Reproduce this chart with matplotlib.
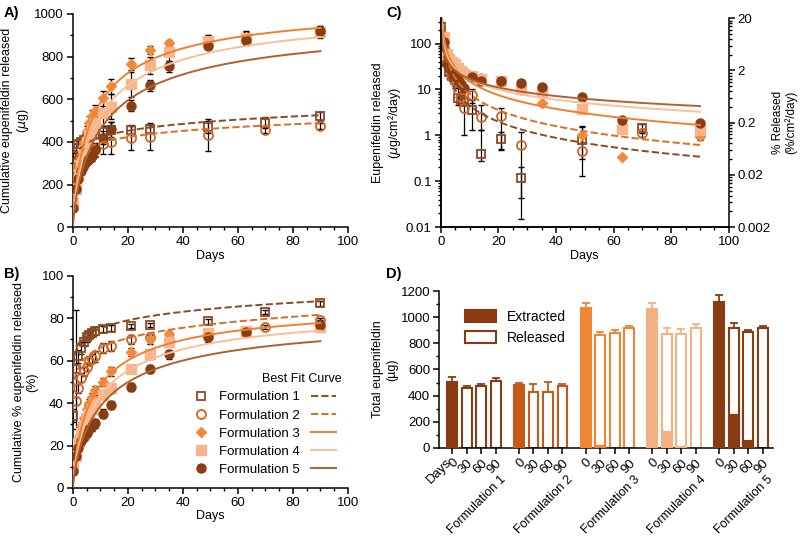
import numpy as np
import matplotlib
matplotlib.use("Agg")
import matplotlib.pyplot as plt
import matplotlib.transforms as mtransforms
from matplotlib.ticker import MultipleLocator, LogLocator, FixedLocator, FuncFormatter, NullFormatter
from matplotlib.lines import Line2D
from matplotlib.patches import Patch

plt.rcParams["font.family"] = ["Liberation Sans", "DejaVu Sans"]
plt.rcParams["font.size"] = 9
plt.rcParams["xtick.labelsize"] = 9.5
plt.rcParams["ytick.labelsize"] = 9.5
plt.rcParams["axes.linewidth"] = 1.1

# ---- data ----
names = ["Formulation 1", "Formulation 2", "Formulation 3", "Formulation 4", "Formulation 5"]
days12 = [0.08, 1, 2, 3, 4, 5, 6, 7, 8, 11, 14, 21, 28, 49, 70, 90]
days345 = [0.08, 1, 2, 3, 4, 5, 6, 7, 8, 11, 14, 21, 28, 35, 49, 63, 90]

# A) cumulative release (ug)
a1 = [340, 370, 390, 400, 410, 420, 425, 430, 435, 445, 455, 455, 460, 470, 490, 520]
a2 = [200, 240, 280, 300, 320, 330, 340, 350, 360, 390, 400, 420, 425, 430, 455, 475]
a3 = [130, 200, 280, 350, 400, 450, 490, 520, 545, 605, 660, 765, 830, 865, 875, 890, 915]
a4 = [110, 180, 250, 310, 360, 400, 430, 460, 490, 535, 565, 670, 760, 820, 875, 885, 915]
a5 = [90, 180, 225, 265, 290, 310, 320, 335, 365, 420, 460, 570, 665, 755, 850, 880, 920]
ea1 = [20, 20, 15, 15, 15, 15, 15, 15, 15, 30, 40, 20, 20, 30, 25, 20]
ea2 = [20, 20, 20, 20, 20, 20, 20, 25, 30, 45, 55, 60, 65, 75, 15, 15]
ea3 = [15, 20, 20, 25, 25, 25, 30, 30, 30, 35, 35, 30, 20, 15, 25, 30, 25]
ea4 = [15, 20, 20, 25, 25, 30, 30, 40, 40, 60, 60, 60, 40, 40, 25, 30, 30]
ea5 = [15, 15, 15, 20, 20, 20, 20, 25, 30, 30, 35, 25, 25, 25, 15, 25, 25]

# B) cumulative % released
b1 = [34, 56, 62, 66, 69, 71, 72, 73, 74, 75, 75.5, 76.5, 77, 78.5, 83, 87]
b2 = [19, 41, 47, 52, 55, 57, 60, 61, 62, 66, 67, 70, 71, 73, 76, 79]
b3 = [11, 17, 23, 29, 33, 37, 40, 43, 46, 50, 55, 64, 70, 72.5, 73, 74, 77]
b4 = [10, 15, 21, 26, 29, 33, 35, 37, 40, 44, 47, 56, 63, 69, 73, 74, 76]
b5 = [8, 15, 19, 22, 24, 26, 28, 29, 30.5, 35, 39, 47.5, 56, 63, 71, 73.5, 77]
eb1 = [3, 28, 3, 3, 2, 2, 2, 2, 2, 1.5, 1.5, 1, 1, 1, 1, 1]
eb2 = [2, 2, 2, 2, 2, 2, 2, 2, 2.5, 2.5, 2.5, 2, 2, 2, 1, 1]
eb3 = [2, 2, 2, 2, 2, 2, 2, 2, 2, 2, 2, 2, 2, 1.5, 1.5, 1.5, 1.5]
eb4 = [2, 2, 2, 2, 2, 2, 2, 2, 2, 2, 2, 2, 2, 2, 2, 2, 2]
eb5 = [2, 2, 2, 2, 2, 2, 2, 2, 2, 2, 2, 2, 2, 2, 2, 2, 2]

# C) release rate (ug/cm2/day)
c1 = [230, 100, 40, 24, 20, 16, 6.4, 5.9, 5.4, 3.5, 0.4, 0.85, 0.12, 0.8, 1.45, 1.2]
c2 = [110, 80, 40, 30, 20, 15, 9.7, 7, 4, 7.5, 2.5, 2.7, 0.62, 0.46, 1.15, 1.0]
c3 = [110, 130, 60, 45, 40, 35, 30, 28, 25, 20, 18, 15, 9.5, 5.0, 1.0, 0.33, 0.95]
c4 = [130, 140, 60, 45, 40, 35, 30, 25, 22, 20, 17, 15, 10, 9, 3.7, 1.35, 1.3]
c5 = [90, 110, 35, 30, 25, 20, 17, 13, 11, 19, 15, 15, 14, 11.5, 7, 2.2, 1.85]
c1_lo = [150, 70, 30, 18, 15, 12, 4.5, 4.5, 4.5, 1.3, 0.27, 0.48, 0.015, 0.3, 1.1, 0.9]
c1_hi = [300, 130, 50, 30, 25, 20, 8, 7.5, 6.5, 6, 1.3, 1.2, 0.2, 1.5, 1.8, 1.5]
c2_lo = [80, 60, 30, 22, 15, 11, 7, 5, 1.0, 5, 1.3, 0.5, 0.043, 0.13, 0.9, 0.8]
c2_hi = [150, 100, 50, 38, 26, 19, 12, 9, 10, 10, 4.6, 4.0, 1.2, 1.6, 1.4, 1.2]

# best-fit parameters
fitA_pow = [(335, 0.10), (317, 0.096)]                 # F1, F2: a*t^b
fitA_hill = [(1070, 8, 0.8), (1045, 10, 0.8), (990, 12, 0.8)]  # F3-F5
fitB_pow = [(63.7, 0.072), (53, 0.096)]
fitB_hill = [(89, 8, 0.8), (87, 10, 0.8), (83, 12, 0.8)]
fitC_pow = [(65, -1.166), (116, -1.164), (148, -0.995), (91.5, -0.74), (70.6, -0.62)]

# D) total eupenifeldin (ug)
day_labels = ["0", "30", "60", "90"]
extracted = [[505, 0, 0, 0], [480, 0, 0, 0], [1070, 30, 0, 0], [1060, 120, 5, 0], [1120, 265, 55, 0]]
extracted_err = [[35, 0, 0, 0], [15, 0, 0, 0], [35, 35, 0, 0], [45, 0, 0, 0], [50, 25, 0, 0]]
released = [[0, 460, 470, 515], [0, 425, 430, 470], [0, 860, 880, 915], [0, 870, 875, 915], [0, 920, 890, 920]]
released_err = [[0, 15, 15, 20], [0, 65, 75, 15], [0, 25, 20, 20], [0, 45, 35, 35], [0, 35, 10, 15]]

# ---- style ----
mcols = ["#8c4a24", "#d0671f", "#f28a3a", "#f6b58c", "#8a3d12"]
lcols = ["#8c4a24", "#d86e2a", "#f08030", "#f8bf98", "#b0612e"]
bcols = ["#8a3b12", "#c5581b", "#ef8535", "#f5b184", "#8a3b12"]
mstyles = [
    dict(marker="s", mfc="none", mec=mcols[0], mew=1.3, ms=6),
    dict(marker="o", mfc="none", mec=mcols[1], mew=1.3, ms=6.5),
    dict(marker="D", mfc=mcols[2], mec=mcols[2], ms=5),
    dict(marker="s", mfc=mcols[3], mec=mcols[3], ms=6.5),
    dict(marker="o", mfc=mcols[4], mec=mcols[4], ms=6.5),
]
lstyles = ["--", "--", "-", "-", "-"]


def style_axis(ax):
    for s in ["top", "right"]:
        ax.spines[s].set_visible(False)
    ax.tick_params(which="major", direction="out", length=4, width=1.1, colors="black", pad=2.5)
    ax.tick_params(which="minor", direction="out", length=2.5, width=1.0)


fig = plt.figure(figsize=(8, 5.37), dpi=100)
axA = fig.add_axes([0.091, 0.577, 0.344, 0.397])
axB = fig.add_axes([0.091, 0.0913, 0.344, 0.395])
axC = fig.add_axes([0.551, 0.577, 0.36, 0.389])
axD = fig.add_axes([0.549, 0.166, 0.417, 0.292])

t = np.linspace(0.02, 90, 500)
tc = np.linspace(0.2, 90, 500)
all_days = [days12, days12, days345, days345, days345]

# A
A = [a1, a2, a3, a4, a5]
EA = [ea1, ea2, ea3, ea4, ea5]
for i in range(5):
    axA.errorbar(all_days[i], A[i], yerr=EA[i], fmt="none", ecolor="black", elinewidth=0.9, capsize=2, zorder=2)
    axA.plot(all_days[i], A[i], ls="none", zorder=3, **mstyles[i])
for i, (a, b) in enumerate(fitA_pow):
    axA.plot(t, a * t ** b, ls="--", color=lcols[i], lw=1.4, zorder=4)
for j, (top, k, h) in enumerate(fitA_hill):
    axA.plot(t, top * t ** h / (k ** h + t ** h), ls="-", color=lcols[j + 2], lw=1.4, zorder=4)
axA.set_xlim(0, 100)
axA.set_ylim(0, 1000)
axA.xaxis.set_major_locator(MultipleLocator(20))
axA.xaxis.set_minor_locator(MultipleLocator(5))
axA.yaxis.set_major_locator(MultipleLocator(200))
axA.yaxis.set_minor_locator(MultipleLocator(100))
axA.set_xlabel("Days", labelpad=1)
axA.set_ylabel("Cumulative eupenifeldin released\n($\\mu$g)", labelpad=2)
style_axis(axA)

# B
B = [b1, b2, b3, b4, b5]
EB = [eb1, eb2, eb3, eb4, eb5]
for i in range(5):
    axB.errorbar(all_days[i], B[i], yerr=EB[i], fmt="none", ecolor="black", elinewidth=0.9, capsize=2, zorder=2)
    axB.plot(all_days[i], B[i], ls="none", zorder=3, **mstyles[i])
for i, (a, b) in enumerate(fitB_pow):
    axB.plot(t, a * t ** b, ls="--", color=lcols[i], lw=1.4, zorder=4)
for j, (top, k, h) in enumerate(fitB_hill):
    axB.plot(t, top * t ** h / (k ** h + t ** h), ls="-", color=lcols[j + 2], lw=1.4, zorder=4)
axB.set_xlim(0, 100)
axB.set_ylim(0, 100)
axB.xaxis.set_major_locator(MultipleLocator(20))
axB.xaxis.set_minor_locator(MultipleLocator(5))
axB.yaxis.set_major_locator(MultipleLocator(20))
axB.yaxis.set_minor_locator(MultipleLocator(10))
axB.set_xlabel("Days", labelpad=1)
axB.set_ylabel("Cumulative % eupenifeldin released\n(%)", labelpad=2)
style_axis(axB)
handles = [Line2D([], [], ls="none", **mstyles[i]) for i in range(5)]
handles += [Line2D([], [], ls=lstyles[i], color=lcols[i], lw=1.4) for i in range(5)]
labels = names + [""] * 5
axB.legend(handles, labels, ncol=2, loc="lower right", bbox_to_anchor=(1.02, 0.0), frameon=False,
           title="Best Fit Curve", alignment="right", handlelength=1.9, handletextpad=0.4,
           columnspacing=0.9, labelspacing=0.45, title_fontsize=9, fontsize=9.5)

# C
C = [c1, c2, c3, c4, c5]
axC.errorbar(days12, c1, yerr=[np.array(c1) - np.array(c1_lo), np.array(c1_hi) - np.array(c1)],
             fmt="none", ecolor="black", elinewidth=0.9, capsize=2, zorder=2)
axC.errorbar(days12, c2, yerr=[np.array(c2) - np.array(c2_lo), np.array(c2_hi) - np.array(c2)],
             fmt="none", ecolor="black", elinewidth=0.9, capsize=2, zorder=2)
for i in range(5):
    axC.plot(all_days[i], C[i], ls="none", zorder=3, **mstyles[i])
for i, (a, b) in enumerate(fitC_pow):
    axC.plot(tc, a * tc ** b, ls=lstyles[i], color=lcols[i], lw=1.4, zorder=4)
axC.set_yscale("log")
axC.set_xlim(0, 100)
axC.set_ylim(0.01, 355)
axC.xaxis.set_major_locator(MultipleLocator(20))
axC.xaxis.set_minor_locator(MultipleLocator(5))
axC.yaxis.set_major_locator(FixedLocator([0.01, 0.1, 1, 10, 100]))
axC.yaxis.set_minor_locator(LogLocator(base=10, subs=np.arange(2, 10)))
axC.yaxis.set_major_formatter(FuncFormatter(lambda v, _: f"{v:g}"))
axC.yaxis.set_minor_formatter(NullFormatter())
axC.set_xlabel("Days", labelpad=1)
axC.set_ylabel("Eupenifeldin released\n($\\mu$g/cm²/day)", labelpad=2)
style_axis(axC)
axC2 = axC.twinx()
axC2.set_yscale("log")
axC2.set_ylim(0.002, 20)
axC2.yaxis.set_major_locator(FixedLocator([0.002, 0.02, 0.2, 2, 20]))
axC2.yaxis.set_minor_locator(FixedLocator([2 * 10.0 ** n * k for n in range(-3, 1) for k in range(2, 10)]))
axC2.yaxis.set_major_formatter(FuncFormatter(lambda v, _: f"{v:g}"))
axC2.yaxis.set_minor_formatter(NullFormatter())
axC2.spines["top"].set_visible(False)
axC2.tick_params(which="major", direction="out", length=4, width=1.1, pad=2)
axC2.tick_params(which="minor", direction="out", length=2.5, width=1.0)
axC2.set_ylabel("% Released\n(%/cm²/day)", labelpad=1, fontsize=8.5, linespacing=1.05)

# D
gap = 4.6
xpos = []
for g in range(5):
    for i in range(4):
        x = g * gap + i
        xpos.append(x)
        col = bcols[g]
        if released[g][i] > 0:
            axD.bar(x, released[g][i], width=0.68, color="white", edgecolor=col, linewidth=1.5, zorder=2)
            axD.errorbar(x, released[g][i], yerr=[[0], [released_err[g][i]]], fmt="none",
                         ecolor=col, elinewidth=1.3, capsize=3, capthick=1.3, zorder=3)
        if extracted[g][i] > 0:
            axD.bar(x, extracted[g][i], width=0.68, color=col, edgecolor=col, linewidth=1.5, zorder=3)
            if extracted_err[g][i] > 0:
                axD.errorbar(x, extracted[g][i], yerr=[[0], [extracted_err[g][i]]], fmt="none",
                             ecolor=col if i == 0 else "white", elinewidth=1.3, capsize=3, capthick=1.3, zorder=4)
axD.set_xlim(-0.9, 4 * gap + 3.7)
axD.set_ylim(0, 1200)
axD.set_xticks(xpos)
axD.set_xticklabels(day_labels * 5, rotation=45, ha="right", rotation_mode="anchor")
axD.yaxis.set_major_locator(MultipleLocator(200))
axD.yaxis.set_minor_locator(MultipleLocator(100))
axD.set_ylabel("Total eupenifeldin\n(µg)", labelpad=2)
style_axis(axD)
tr = mtransforms.blended_transform_factory(axD.transData, axD.transAxes)
axD.text(-0.45, -0.055, "Days", transform=tr, rotation=45, ha="right", va="top", rotation_mode="anchor",
         fontsize=9.5)
for g in range(5):
    axD.text(g * gap + 3.3, -0.165, names[g], transform=tr, rotation=45, ha="right", va="top",
             rotation_mode="anchor", fontsize=9)
leg_h = [Patch(facecolor=bcols[0], edgecolor=bcols[0], linewidth=1.5),
         Patch(facecolor="white", edgecolor=bcols[0], linewidth=1.5)]
axD.legend(leg_h, ["Extracted", "Released"], loc="upper left", bbox_to_anchor=(0.04, 0.96), frameon=False,
           handlelength=2.2, handleheight=1.0, fontsize=10, labelspacing=0.5)

# panel letters
for txt, x, y in [("A)", 0.005, 0.975), ("B)", 0.005, 0.49), ("C)", 0.483, 0.975), ("D)", 0.483, 0.49)]:
    fig.text(x, y, txt, fontweight="bold", fontsize=10.5, va="center")

fig.savefig("out.png", dpi=100)
